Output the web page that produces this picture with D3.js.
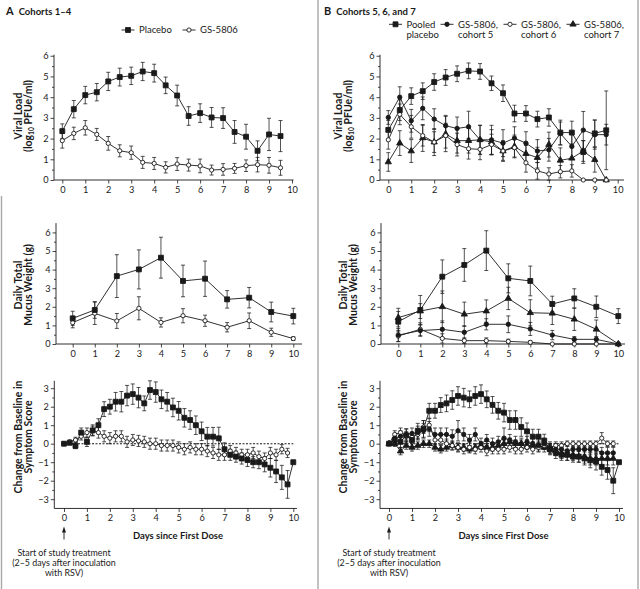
<!DOCTYPE html>
<html>
<head>
<meta charset="utf-8">
<script src="https://cdn.jsdelivr.net/npm/d3@7"></script>
<style>
  html, body { margin: 0; padding: 0; background: #fff; }
  svg { display: block; font-family: Lato, "Open Sans", sans-serif; }
</style>
</head>
<body>
<svg id="chart" width="640" height="589"></svg>
<script>
// ---- days (x categories) ----
const vlDays = [0, 0.5, 1, 1.5, 2, 2.5, 3, 3.5, 4, 4.5, 5, 5.5, 6, 6.5, 7, 7.5, 8, 8.5, 9, 9.5];
const mwDays = [0, 1, 2, 3, 4, 5, 6, 7, 8, 9, 10];
const ssDays = [0, 0.25, 0.5, 0.75, 1, 1.25, 1.5, 1.75, 2, 2.25, 2.5, 2.75, 3, 3.25, 3.5, 3.75,
  4, 4.25, 4.5, 4.75, 5, 5.25, 5.5, 5.75, 6, 6.25, 6.5, 6.75, 7, 7.25, 7.5, 7.75,
  8, 8.25, 8.5, 8.75, 9, 9.25, 9.5, 9.75, 10];

// ---- tick labels ----
const xTicks = [0, 1, 2, 3, 4, 5, 6, 7, 8, 9, 10];
const yTicksPos = [0, 1, 2, 3, 4, 5, 6];
const yTicksSym = [-3, -2, -1, 0, 1, 2, 3];

// ---- panel A, viral load ----
const vlPlaceboA = [2.36, 3.42, 4.1, 4.24, 4.76, 4.97, 5.03, 5.24, 5.16, 4.57, 4.08, 3.09, 3.23, 3.02, 2.99, 2.32, 2.09, 1.41, 2.2, 2.12];
const vlPlaceboAErr = [0.35, 0.42, 0.42, 0.42, 0.44, 0.43, 0.42, 0.44, 0.43, 0.4, 0.5, 0.45, 0.45, 0.48, 0.5, 0.55, 0.6, 0.48, 0.78, 0.75];
const vlGsA = [1.9, 2.25, 2.52, 2.2, 1.77, 1.41, 1.32, 0.85, 0.8, 0.61, 0.77, 0.72, 0.68, 0.48, 0.51, 0.56, 0.69, 0.74, 0.71, 0.59];
const vlGsAErr = [0.36, 0.3, 0.35, 0.29, 0.33, 0.29, 0.32, 0.29, 0.29, 0.27, 0.31, 0.29, 0.33, 0.24, 0.28, 0.24, 0.28, 0.35, 0.38, 0.36];

// ---- panel B, viral load ----
const vlPlaceboB = [2.42, 3.37, 4.05, 4.29, 4.73, 4.95, 5.13, 5.27, 5.24, 4.67, 4.19, 3.21, 3.21, 2.94, 3.02, 2.29, 2.29, 1.35, 2.25, 2.4];
const vlPlaceboBErr = [0.45, 0.5, 0.4, 0.4, 0.4, 0.38, 0.38, 0.38, 0.38, 0.35, 0.4, 0.4, 0.38, 0.38, 0.42, 0.6, 0.55, 0.55, 0.65, 1.9];
const vlC5 = [3.02, 4.0, 2.86, 3.46, 2.94, 2.62, 2.49, 2.57, 1.94, 1.94, 1.78, 2.02, 1.78, 1.4, 1.46, 2.25, 1.62, 2.41, 2.19, 2.19];
const vlC5Err = [0.33, 0.5, 0.55, 0.55, 0.5, 0.5, 0.55, 0.75, 0.7, 0.7, 0.65, 0.55, 0.55, 0.55, 0.55, 0.55, 0.6, 0.9, 0.7, 0.5];
const vlC6 = [1.94, 3.17, 2.57, 2.14, 1.83, 2.14, 1.71, 1.51, 1.48, 1.71, 1.4, 1.56, 0.83, 0.44, 0.29, 0.4, 0.44, 0, 0, 0];
const vlC6Err = [0.45, 0.5, 0.55, 0.5, 0.5, 0.6, 0.55, 0.5, 0.5, 0.5, 0.45, 0.45, 0.45, 0.4, 0.3, 0.3, 0.3, 0, 0, 0];
const vlC7 = [0.87, 1.78, 1.4, 2.03, 1.83, 2.22, 1.9, 1.9, 1.94, 1.83, 1.4, 1.62, 1.27, 1.08, 1.71, 0.95, 1.05, 1.4, 0.98, 0];
const vlC7Err = [0.45, 0.6, 0.55, 0.65, 0.65, 0.85, 0.6, 0.6, 0.7, 0.6, 0.5, 0.55, 0.4, 0.5, 0.6, 0.6, 0.6, 0.5, 0.6, 0];

// ---- mucus weight ----
const mwPlaceboA = [1.38, 1.83, 3.65, 4.01, 4.64, 3.39, 3.51, 2.4, 2.49, 1.72, 1.5];
const mwPlaceboAErr = [0.38, 0.45, 1.15, 1.05, 1.1, 0.85, 0.95, 0.47, 0.55, 0.53, 0.42];
const mwGsA = [1.15, 1.65, 1.24, 1.92, 1.16, 1.52, 1.25, 0.9, 1.25, 0.63, 0.29];
const mwGsAErr = [0.28, 0.6, 0.4, 0.62, 0.25, 0.38, 0.3, 0.25, 0.42, 0.22, 0.1];

const mwPlaceboB = [1.2, 1.83, 3.62, 4.25, 5.02, 3.53, 3.39, 2.15, 2.45, 2.0, 1.5];
const mwPlaceboBErr = [0.55, 0.78, 0.9, 0.88, 1.07, 0.78, 0.8, 0.42, 0.52, 0.58, 0.4];
const mwC5 = [0.48, 0.72, 0.79, 0.63, 1.06, 1.06, 0.81, 0.48, 0.25, 0.25, 0];
const mwC5Err = [0.35, 0.3, 0.45, 0.35, 0.3, 0.45, 0.35, 0.25, 0.15, 0.15, 0];
const mwC6 = [0.43, 0.79, 0.3, 0.18, 0.18, 0.14, 0.09, 0, 0, 0, 0];
const mwC6Err = [0.3, 0.35, 0.25, 0.15, 0.15, 0.12, 0.08, 0, 0, 0, 0];
const mwC7 = [1.42, 1.77, 2.0, 1.6, 1.77, 2.45, 1.68, 1.65, 1.33, 0.79, 0];
const mwC7Err = [0.5, 0.4, 0.85, 0.65, 0.6, 0.6, 0.7, 0.6, 0.6, 0.5, 0];

// ---- symptom score change ----
const ssPlaceboA = [0, 0.05, -0.12, 0.6, 0.1, 0.72, 1.0, 1.87, 2.0, 2.27, 2.27, 2.6, 2.68, 2.49, 2.18, 2.9,
  2.79, 2.4, 2.27, 1.96, 1.78, 1.4, 1.28, 1.0, 0.67, 0.38, 0.38, 0.29, -0.3, -0.6, -0.7, -0.8,
  -0.88, -1.0, -1.0, -1.12, -1.3, -1.5, -1.82, -2.2, -1.0];
const ssPlaceboAErr = [0, 0.1, 0.15, 0.25, 0.25, 0.3, 0.35, 0.4, 0.4, 0.5, 0.55, 0.55, 0.55, 0.55, 0.4, 0.5,
  0.55, 0.5, 0.5, 0.5, 0.5, 0.5, 0.5, 0.5, 0.5, 0.5, 0.5, 0.6, 0.35, 0.3, 0.3, 0.3,
  0.35, 0.3, 0.35, 0.4, 0.5, 0.6, 0.65, 0.75, 0];
const ssGsA = [0, 0.1, 0.2, 0.4, 0.6, 0.7, 0.6, 0.4, 0.3, 0.4, 0.4, 0.1, 0.2, 0.15, 0.1, 0,
  0, -0.1, -0.1, -0.1, -0.2, -0.3, -0.2, -0.3, -0.3, -0.4, -0.5, -0.6, -0.6, -0.4, -0.5, -0.6,
  -0.6, -0.5, -0.7, -0.8, -0.5, -0.6, -0.3, -0.5, null];
const ssGsAErr = [0, 0.1, 0.15, 0.2, 0.25, 0.25, 0.3, 0.3, 0.3, 0.3, 0.3, 0.3, 0.3, 0.3, 0.3, 0.3,
  0.3, 0.3, 0.3, 0.3, 0.3, 0.3, 0.3, 0.3, 0.3, 0.3, 0.3, 0.3, 0.3, 0.3, 0.3, 0.3,
  0.3, 0.3, 0.3, 0.3, 0.3, 0.3, 0.25, 0.25, 0];

const ssPlaceboB = [0, 0.2, 0.1, 0.45, 0.2, 0.7, 0.8, 1.78, 1.78, 2.09, 2.18, 2.36, 2.58, 2.49, 2.4, 2.58,
  2.68, 2.4, 2.1, 1.78, 1.68, 1.28, 1.28, 0.9, 0.67, 0.38, 0.38, 0.16, -0.3, -0.5, -0.6, -0.6,
  -0.7, -0.7, -0.8, -0.9, -0.97, -1.25, -1.42, -2.0, -1.0];
const ssPlaceboBErr = [0, 0.2, 0.3, 0.35, 0.4, 0.4, 0.45, 0.4, 0.4, 0.4, 0.45, 0.5, 0.5, 0.5, 0.45, 0.5,
  0.5, 0.45, 0.45, 0.45, 0.5, 0.5, 0.5, 0.5, 0.45, 0.4, 0.4, 0.35, 0.3, 0.3, 0.3, 0.3,
  0.3, 0.3, 0.35, 0.4, 0.45, 0.45, 0.5, 0.7, 0];
const ssC5 = [0, 0.3, 0.4, 0.5, 0.55, 0.6, 0.7, 0.8, 0.5, 0.5, 0.5, 0.4, 0.7, 0.5, 0.2, 0.5,
  0, 0.2, 0, 0.1, 0.3, 0.2, 0.1, 0, 0.1, 0, -0.1, 0, -0.2, -0.3, -0.3, -0.4,
  -0.3, -0.3, -0.3, -0.3, -0.3, -0.5, -0.5, -0.5, null];
const ssC5Err = [0, 0.25, 0.3, 0.3, 0.3, 0.35, 0.4, 0.4, 0.35, 0.35, 0.35, 0.35, 0.55, 0.35, 0.3, 0.35,
  0.3, 0.3, 0.3, 0.3, 0.55, 0.3, 0.3, 0.3, 0.3, 0.3, 0.3, 0.3, 0.3, 0.3, 0.3, 0.3,
  0.3, 0.3, 0.3, 0.3, 0.3, 0.3, 0.3, 0.3, 0];
const ssC6 = [0, 0.5, 0.6, 0.4, 0.35, 0.5, 0.9, 1.0, 0.2, 0.2, 0, -0.1, -0.2, -0.3, -0.2, -0.3,
  -0.2, -0.4, -0.3, -0.3, -0.3, -0.2, -0.3, -0.3, -0.2, -0.3, -0.2, -0.1, -0.2, -0.1, -0.1, 0,
  0, 0, 0, 0, 0, 0.3, 0, 0, null];
const ssC6Err = [0, 0.2, 0.25, 0.25, 0.25, 0.3, 0.35, 0.35, 0.25, 0.25, 0.25, 0.25, 0.25, 0.25, 0.25, 0.25,
  0.25, 0.25, 0.25, 0.25, 0.25, 0.25, 0.25, 0.25, 0.25, 0.25, 0.25, 0.2, 0.2, 0.2, 0.2, 0.15,
  0.15, 0.15, 0.15, 0.15, 0.15, 0.3, 0.15, 0.15, 0];
const ssC7 = [0, 0, -0.4, -0.1, -0.2, -0.1, 0, 0, -0.2, -0.3, -0.2, -0.1, -0.2, -0.2, -0.3, -0.2,
  -0.1, -0.2, -0.2, -0.1, 0, 0.1, 0, 0, -0.1, -0.1, -0.1, -0.2, -0.3, -0.4, -0.5, -0.6,
  -0.6, -0.7, -0.7, -0.8, -0.8, -0.8, -0.8, -0.8, null];
const ssC7Err = [0, 0.15, 0.2, 0.2, 0.2, 0.2, 0.2, 0.2, 0.2, 0.2, 0.2, 0.2, 0.2, 0.2, 0.2, 0.2,
  0.2, 0.2, 0.2, 0.2, 0.2, 0.2, 0.2, 0.2, 0.2, 0.2, 0.2, 0.25, 0.25, 0.25, 0.3, 0.3,
  0.3, 0.3, 0.35, 0.35, 0.35, 0.35, 0.35, 0.35, 0];

const INK = '#1a1a1a';
const svg = d3.select('#chart');

// marker shapes
const shapes = {
  square:   { type: d3.symbolSquare,   size: 24, fill: INK },
  open:     { type: d3.symbolCircle,   size: 14, fill: '#fff' },
  dot:      { type: d3.symbolCircle,   size: 15, fill: INK },
  triangle: { type: d3.symbolTriangle, size: 17, fill: INK }
};

function drawMarker(g, kind, cx, cy) {
  const s = shapes[kind];
  g.append('path')
    .attr('d', d3.symbol().type(s.type).size(s.size)())
    .attr('transform', `translate(${cx},${cy})`)
    .attr('fill', s.fill)
    .attr('stroke', INK)
    .attr('stroke-width', 0.9);
}

/**
 * Draws one small multiple: axes, optional zero line, series with error bars
 */
function drawPanel(p) {
  const x = d3.scaleLinear().domain([0, 10]).range([p.x0, p.x10]);
  const y = d3.scaleLinear().domain(p.yDomain).range(p.yRange);
  const g = svg.append('g');
  const baseY = y(p.yDomain[0]);

  // axis lines
  g.append('line').attr('x1', p.axisX).attr('x2', p.axisX)
    .attr('y1', y(p.yDomain[1])).attr('y2', baseY)
    .attr('stroke', INK).attr('stroke-width', 0.9);
  g.append('line').attr('x1', p.axisX).attr('x2', p.axisEnd)
    .attr('y1', baseY).attr('y2', baseY)
    .attr('stroke', INK).attr('stroke-width', 0.9);

  const fmt = d => (d < 0 ? '\u2212' + Math.abs(d) : String(d));

  const yAx = g.append('g').attr('transform', `translate(${p.axisX},0)`)
    .call(d3.axisLeft(y).tickValues(p.yTicks).tickSize(3.5).tickPadding(2).tickFormat(fmt));
  const minor = p.yTicks.slice(0, -1).map(v => v + 0.5);
  const yMin = g.append('g').attr('transform', `translate(${p.axisX},0)`)
    .call(d3.axisLeft(y).tickValues(minor).tickSize(2).tickFormat(''));
  const xAx = g.append('g').attr('transform', `translate(0,${baseY})`)
    .call(d3.axisBottom(x).tickValues(xTicks).tickSize(3.5).tickPadding(3));

  [yAx, yMin, xAx].forEach(a => {
    a.select('.domain').remove();
    a.selectAll('line').attr('stroke', INK).attr('stroke-width', 0.8);
    a.selectAll('text').attr('fill', INK).attr('font-size', 9.2).attr('font-family', 'Lato, sans-serif');
  });

  // y label, two lines, rotated
  const lab = g.append('text')
    .attr('transform', `translate(${p.labelX},${p.labelY}) rotate(-90)`)
    .attr('text-anchor', 'middle')
    .attr('font-size', 10.5).attr('font-weight', 'bold').attr('fill', INK);
  lab.append('tspan').attr('x', 0).attr('y', 0).text(p.label[0]);
  if (p.sub) {
    const l2 = lab.append('tspan').attr('x', 0).attr('y', 10.2);
    l2.append('tspan').text('(log');
    l2.append('tspan').attr('font-size', 6.8).attr('dy', 2).text('10');
    l2.append('tspan').attr('dy', -2).text(' PFUe/ml)');
  } else {
    lab.append('tspan').attr('x', 0).attr('y', 10.2).text(p.label[1]);
  }

  if (p.zeroLine) {
    g.append('line').attr('x1', x(0)).attr('x2', x(10))
      .attr('y1', y(0)).attr('y2', y(0))
      .attr('stroke', INK).attr('stroke-width', 1.1).attr('stroke-dasharray', '2,1.5');
  }

  const cap = 2;
  const line = d3.line().defined(o => o.v != null).x(o => x(o.d)).y(o => y(o.v));
  const layers = p.series.map(s => s.days.map((d, i) => ({ d, v: s.vals[i], e: s.errs[i] || 0 })));

  layers.forEach(pts => {
    g.append('g').selectAll('path')
      .data(pts.filter(o => o.v != null && o.e > 0))
      .join('path')
      .attr('d', o => {
        const cx = x(o.d), lo = y(o.v - o.e), hi = y(o.v + o.e);
        return `M${cx},${lo}V${hi}M${cx - cap},${hi}h${2 * cap}M${cx - cap},${lo}h${2 * cap}`;
      })
      .attr('fill', 'none').attr('stroke', INK).attr('stroke-width', 0.75);
  });
  layers.forEach(pts => {
    g.append('path').datum(pts).attr('d', line)
      .attr('fill', 'none').attr('stroke', INK).attr('stroke-width', 0.9);
  });
  layers.forEach((pts, k) => {
    const mg = g.append('g');
    pts.filter(o => o.v != null).forEach(o => drawMarker(mg, p.series[k].kind, x(o.d), y(o.v)));
  });
  return x;
}

// frame lines
[[318, 0, 589], [638, 0, 589], [1.5, 196, 589]].forEach(([fx, y1, y2]) => {
  svg.append('line').attr('x1', fx).attr('x2', fx).attr('y1', y1).attr('y2', y2)
    .attr('stroke', '#a8a8a8').attr('stroke-width', 1.4);
});

// panel titles
function title(tx, letter, text) {
  const t = svg.append('text').attr('x', tx).attr('y', 15).attr('fill', INK).attr('font-weight', 'bold');
  t.append('tspan').attr('font-size', 11).text(letter);
  t.append('tspan').attr('dx', 5).attr('font-size', 9.5).text(text);
}
title(6, 'A', 'Cohorts 1\u20134');
title(324, 'B', 'Cohorts 5, 6, and 7');

// legends
function legendItem(lx, ly, kind, lines) {
  const g = svg.append('g');
  g.append('line').attr('x1', lx - 6.5).attr('x2', lx + 6.5).attr('y1', ly).attr('y2', ly)
    .attr('stroke', INK).attr('stroke-width', 0.9);
  drawMarker(g, kind, lx, ly);
  lines.forEach((txt, i) => {
    g.append('text').attr('x', lx + 11).attr('y', ly + 3.3 + i * 10.2)
      .attr('font-size', 9.5).attr('fill', INK).text(txt);
  });
}
legendItem(128, 30, 'square', ['Placebo']);
legendItem(189, 30, 'open', ['GS-5806']);
legendItem(395.5, 24.3, 'square', ['Pooled', 'placebo']);
legendItem(447, 24.3, 'dot', ['GS-5806,', 'cohort 5']);
legendItem(510, 24.3, 'open', ['GS-5806,', 'cohort 6']);
legendItem(573, 24.3, 'triangle', ['GS-5806,', 'cohort 7']);

// top row: viral load
drawPanel({
  x0: 62.3, x10: 292, axisX: 54, axisEnd: 293.5,
  yDomain: [0, 6.05], yRange: [180, 54.7], yTicks: yTicksPos,
  labelX: 21.5, labelY: 116, label: ['Viral Load'], sub: true,
  series: [
    { days: vlDays, vals: vlGsA, errs: vlGsAErr, kind: 'open' },
    { days: vlDays, vals: vlPlaceboA, errs: vlPlaceboAErr, kind: 'square' }
  ]
});
drawPanel({
  x0: 388.3, x10: 617.7, axisX: 380, axisEnd: 624,
  yDomain: [0, 6.05], yRange: [180, 54.7], yTicks: yTicksPos,
  labelX: 341.5, labelY: 116, label: ['Viral Load'], sub: true,
  series: [
    { days: vlDays, vals: vlC7, errs: vlC7Err, kind: 'triangle' },
    { days: vlDays, vals: vlC6, errs: vlC6Err, kind: 'open' },
    { days: vlDays, vals: vlC5, errs: vlC5Err, kind: 'dot' },
    { days: vlDays, vals: vlPlaceboB, errs: vlPlaceboBErr, kind: 'square' }
  ]
});

// middle row: mucus weight
drawPanel({
  x0: 72.7, x10: 293.3, axisX: 56, axisEnd: 302,
  yDomain: [0, 6.5], yRange: [344, 223.1], yTicks: yTicksPos,
  labelX: 21.5, labelY: 285, label: ['Daily Total', 'Mucus Weight (g)'],
  series: [
    { days: mwDays, vals: mwGsA, errs: mwGsAErr, kind: 'open' },
    { days: mwDays, vals: mwPlaceboA, errs: mwPlaceboAErr, kind: 'square' }
  ]
});
drawPanel({
  x0: 398.3, x10: 618.3, axisX: 381, axisEnd: 625,
  yDomain: [0, 6.5], yRange: [344, 223.1], yTicks: yTicksPos,
  labelX: 346.5, labelY: 285, label: ['Daily Total', 'Mucus Weight (g)'],
  series: [
    { days: mwDays, vals: mwC6, errs: mwC6Err, kind: 'open' },
    { days: mwDays, vals: mwC5, errs: mwC5Err, kind: 'dot' },
    { days: mwDays, vals: mwC7, errs: mwC7Err, kind: 'triangle' },
    { days: mwDays, vals: mwPlaceboB, errs: mwPlaceboBErr, kind: 'square' }
  ]
});

// bottom row: symptom score
const xa = drawPanel({
  x0: 64, x10: 293.3, axisX: 54.3, axisEnd: 297,
  yDomain: [-3.5, 3.4], yRange: [508.45, 380.8], yTicks: yTicksSym, zeroLine: true,
  labelX: 21.5, labelY: 437, label: ['Change from Baseline in', 'Symptom Score'],
  series: [
    { days: ssDays, vals: ssGsA, errs: ssGsAErr, kind: 'open' },
    { days: ssDays, vals: ssPlaceboA, errs: ssPlaceboAErr, kind: 'square' }
  ]
});
const xb = drawPanel({
  x0: 389, x10: 619, axisX: 380, axisEnd: 623,
  yDomain: [-3.5, 3.4], yRange: [508.45, 380.8], yTicks: yTicksSym, zeroLine: true,
  labelX: 346.5, labelY: 437, label: ['Change from Baseline in', 'Symptom Score'],
  series: [
    { days: ssDays, vals: ssC7, errs: ssC7Err, kind: 'triangle' },
    { days: ssDays, vals: ssC6, errs: ssC6Err, kind: 'open' },
    { days: ssDays, vals: ssC5, errs: ssC5Err, kind: 'dot' },
    { days: ssDays, vals: ssPlaceboB, errs: ssPlaceboBErr, kind: 'square' }
  ]
});

// x titles and start-of-treatment notes
function bottomNotes(x, titleX) {
  svg.append('text').attr('x', titleX).attr('y', 538.5).attr('text-anchor', 'middle')
    .attr('font-size', 9.5).attr('font-weight', 'bold').attr('fill', INK)
    .text('Days since First Dose');
  const cx = x(0);
  svg.append('line').attr('x1', cx).attr('x2', cx).attr('y1', 531).attr('y2', 539.5)
    .attr('stroke', INK).attr('stroke-width', 0.9);
  svg.append('path').attr('d', `M${cx},526.5L${cx - 2},532.5L${cx + 2},532.5Z`).attr('fill', INK);
  ['Start of study treatment', '(2\u20135 days after inoculation', 'with RSV)'].forEach((t, i) => {
    svg.append('text').attr('x', cx).attr('y', 556 + i * 10.2).attr('text-anchor', 'middle')
      .attr('font-size', 8.9).attr('fill', INK).text(t);
  });
}
bottomNotes(xa, 178);
bottomNotes(xb, 503.5);
</script>
</body>
</html>
